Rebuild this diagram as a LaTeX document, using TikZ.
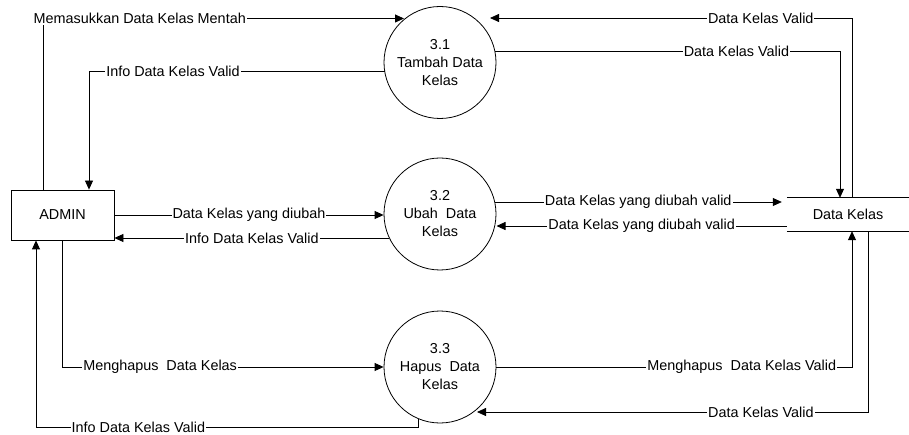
\documentclass[tikz,border=0pt]{standalone}
\usepackage{fontspec}
\setmainfont{Liberation Sans}
\usetikzlibrary{arrows.meta,calc}
\begin{document}
\begin{tikzpicture}[x=1pt,y=-1pt,
  every node/.style={font=\fontsize{14.4}{18}\selectfont},
  flow/.style={draw=black,line width=0.8pt,-{Triangle[length=9pt,width=8pt]}},
  lbl/.style={fill=white,inner sep=1pt},
  proc/.style={circle,draw,line width=0.8pt,minimum size=112pt,inner sep=0pt,align=center},
  entity/.style={draw,line width=0.8pt,minimum width=103pt,minimum height=50pt,inner sep=0pt},
  datastore/.style={minimum width=122pt,minimum height=33pt,inner sep=0pt}]
\useasboundingbox (0,0) rectangle (909,435);

% processes, external entity and data store
\node[proc] (c31) at (440,62.5) {3.1\\Tambah Data\\Kelas};
\node[proc] (c32) at (440,214) {3.2\\Ubah~ Data\\Kelas};
\node[proc] (c33) at (440,367) {3.3\\Hapus~ Data\\Kelas};
\node[entity] (admin) at (62.5,215) {ADMIN};
\node[datastore] (store) at (848,214.5) {Data Kelas};
\draw[line width=0.8pt] (store.north west) -- (store.north east)
                        (store.south west) -- (store.south east);

% flows of process 3.1
\draw[flow] ($(admin.north)+(-19.5,0)$) |- node[lbl,pos=0.634]{Memasukkan Data Kelas Mentah} ($(c31.center)+(-36,-44)$);
\draw[flow] ($(c31.center)+(-55.3,8.5)$) -| node[lbl,pos=0.358]{Info Data Kelas Valid} ($(admin.north)+(26.5,0)$);
\draw[flow] ($(store.north)+(4,0)$) |- node[lbl,pos=0.626]{Data Kelas Valid} ($(c31.center)+(50,-44.5)$);
\draw[flow] ($(c31.center)+(54.8,-11.5)$) -| node[lbl,pos=0.35]{Data Kelas Valid} ($(store.north)+(-8,0)$);

% flows of process 3.2
\draw[flow] (admin.east) -- node[lbl]{Data Kelas yang diubah} (admin.east -| c32.west);
\draw[flow] ($(c32.center)+(-50.6,24)$) -- node[lbl]{Info Data Kelas Valid} ($(admin.east)+(0,23)$);
\draw[flow] ($(c32.center)+(54.7,-12)$) -- node[lbl]{Data Kelas yang diubah valid} ($(store.west)+(-5,-12.5)$);
\draw[flow] ($(store.west)+(0,11.5)$) -- node[lbl]{Data Kelas yang diubah valid} ($(c32.center)+(56.5,12)$);

% flows of process 3.3
\draw[flow] (admin.south) |- node[lbl,pos=0.652]{Menghapus~ Data Kelas} (c33.west);
\draw[flow] ($(c33.center)+(-22,51.5)$) -- ($(c33.center)+(-22,60)$) -| node[lbl,pos=0.366]{Info Data Kelas Valid} ($(admin.south)+(-26.5,0)$);
\draw[flow] (c33.east) -| node[lbl,pos=0.345]{Menghapus~ Data Kelas Valid} ($(store.south)+(4,0)$);
\draw[flow] ($(store.south)+(20,0)$) |- node[lbl,pos=0.637]{Data Kelas Valid} ($(c33.center)+(37,45)$);
\end{tikzpicture}
\end{document}
